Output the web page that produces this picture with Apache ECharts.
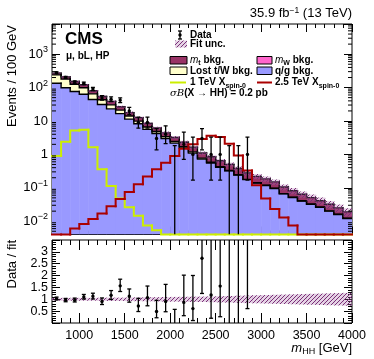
<!DOCTYPE html>
<html>
<head>
<meta charset="utf-8">
<script src="https://cdn.jsdelivr.net/npm/echarts@6/dist/echarts.min.js"></script>
<style>
html, body { margin: 0; padding: 0; background: #fff; }
#chart { width: 374px; height: 359px; }
</style>
</head>
<body>
<div id="chart"></div>
<script>
// 100 GeV bins, lower edges
const binLow = [700, 800, 900, 1000, 1100, 1200, 1300, 1400, 1500, 1600, 1700, 1800, 1900, 2000, 2100, 2200, 2300,
  2400, 2500, 2600, 2700, 2800, 2900, 3000, 3100, 3200, 3300, 3400, 3500, 3600, 3700, 3800, 3900];
const binWidth = 100;

// stacked backgrounds (events / 100 GeV), bottom to top
const qgBkg = [135, 99, 76, 63, 44, 31, 23, 16.6, 11.4, 8.3, 5.6, 4.2, 3.0, 2.18, 1.55, 1.09, 0.72, 0.55, 0.41, 0.32, 0.24,
  0.176, 0.139, 0.117, 0.095, 0.066, 0.051, 0.040, 0.032, 0.026, 0.020, 0.0158, 0.012];
const lostTWBkg = [105, 80, 50, 36, 21, 12, 7.3, 4.6, 2.7, 1.6, 1.0, 0.62, 0.4, 0.26, 0.16, 0.1, 0.055, 0.034, 0.02, 0.01,
  0.007, 0.003, 0.002, 0.002, 0.0015, 0.001, 0.001, 0.0008, 0.0006, 0.0005, 0.0004, 0.0003, 0.0002];
const mWBkg = [1.0, 0.8, 0.6, 0.5, 0.3, 0.2, 0.15, 0.1, 0.07, 0.05, 0.035, 0.025, 0.018, 0.013, 0.01, 0.007, 0.005, 0.004,
  0.003, 0.002, 0.0015, 0.001, 0.0008, 0.0007, 0.0006, 0.0004, 0.0003, 0.00025, 0.0002, 0.00015, 0.00012, 0.0001, 0.00008];
const mtBkg = [29, 30, 25, 21.5, 14.7, 10.8, 8.1, 5.5, 3.6, 2.65, 1.77, 1.35, 0.98, 0.75, 0.58, 0.45, 0.32, 0.26, 0.21, 0.17,
  0.13, 0.10, 0.078, 0.065, 0.053, 0.038, 0.029, 0.023, 0.018, 0.0145, 0.0115, 0.0089, 0.0068];
// relative fit uncertainty
const fitUnc = [0.06, 0.06, 0.06, 0.06, 0.06, 0.065, 0.07, 0.07, 0.075, 0.08, 0.085, 0.09, 0.095, 0.10, 0.105, 0.11, 0.115,
  0.12, 0.13, 0.14, 0.15, 0.16, 0.17, 0.18, 0.19, 0.20, 0.21, 0.22, 0.23, 0.24, 0.25, 0.26, 0.27];

// signals
const sig1TeV = [0.9, 2.4, 5.2, 5.5, 1.65, 0.36, 0.114, 0.048, 0.026, 0.0146, 0.0074, 0.0054,
  0, 0, 0, 0, 0, 0, 0, 0, 0, 0, 0, 0, 0, 0, 0, 0, 0, 0, 0, 0, 0];
const sig2p5TeV = [0, 0, 0.0061, 0.0083, 0.0117, 0.017, 0.028, 0.046, 0.075, 0.128, 0.217, 0.36, 0.565, 0.89, 1.48, 2.0,
  2.9, 3.6, 3.3, 2.1, 0.93, 0.33, 0.12, 0.048, 0.023, 0.013, 0.0074, 0, 0, 0, 0, 0, 0];

// data (first 22 bins), Poisson errors
const dataCounts = [278, 202, 146, 133, 90, 49, 45, 42, 20, 9, 9, 3, 4, 0, 2, 1, 3, 1, 1, 0, 0, 1];
const dataErrLo = [16.2, 14.0, 11.6, 11.0, 9.0, 6.9, 6.7, 6.4, 4.4, 2.9, 2.9, 1.63, 1.91, 0, 1.29, 0.83, 1.63, 0.83, 0.83, 0, 0, 0.83];
const dataErrHi = [17.2, 15.2, 13.1, 12.6, 10.5, 8.0, 7.7, 7.5, 5.5, 4.1, 4.1, 2.92, 3.16, 1.84, 2.64, 2.30, 2.92, 2.30, 2.30, 1.84, 1.84, 2.30];

// tick labels of the log axis, by exponent
const logTickLabels = { '-2': '{b|10}{s|\u22122}', '-1': '{b|10}{s|\u22121}', '0': '{b|1}', '1': '{b|10}', '2': '{b|10}{s|2}', '3': '{b|10}{s|3}' };

const X_MIN = 700, X_MAX = 4000;
const Y_MIN = 0.004, Y_MAX = 8000;
const FONT = '"Liberation Sans", Arial, Helvetica, sans-serif';

const COL_QG = '#9999ff', COL_LOST = '#ffffcc', COL_MW = '#ff66cc', COL_MT = '#993366';
const COL_S1 = '#ccee00', COL_S2 = '#aa0000', COL_HATCH = '#7a2f78';

// cumulative stack levels
const lvl1 = qgBkg.map((v, i) => v);
const lvl2 = lvl1.map((v, i) => v + lostTWBkg[i]);
const lvl3 = lvl2.map((v, i) => v + mWBkg[i]);
const total = lvl3.map((v, i) => v + mtBkg[i]);

// pixel hatch: light purple tint with crisp diagonal lines
function hatchCanvas(color) {
  const n = 4;
  const c = document.createElement('canvas');
  c.width = n; c.height = n;
  const g = c.getContext('2d');
  g.fillStyle = 'rgba(170,110,170,0.30)';
  g.fillRect(0, 0, n, n);
  g.fillStyle = color;
  for (let i = 0; i < n; i++) g.fillRect(i, n - 1 - i, 1, 1);
  return c;
}
const hatch = { image: hatchCanvas(COL_HATCH), repeat: 'repeat' };

function boxItems(lo, hi) {
  return binLow.map((x, i) => [x, x + binWidth, lo[i], hi[i]]);
}
function stepItems(vals) {
  return binLow.map((x, i) => [x, x + binWidth, i === 0 ? vals[0] : vals[i - 1], vals[i]]);
}

function boxRender(fill, yMin) {
  return function (params, api) {
    const a = api.coord([api.value(0), Math.max(api.value(3), yMin)]);
    const b = api.coord([api.value(1), Math.max(api.value(2), yMin)]);
    return {
      type: 'rect',
      shape: { x: a[0], y: a[1], width: b[0] - a[0] + 0.5, height: b[1] - a[1] },
      style: { fill: fill }
    };
  };
}
function stepRender(color, width, yMin) {
  return function (params, api) {
    const x0 = api.value(0), x1 = api.value(1);
    const prev = Math.max(api.value(2), yMin), cur = Math.max(api.value(3), yMin);
    return {
      type: 'polyline',
      shape: { points: [api.coord([x0, prev]), api.coord([x0, cur]), api.coord([x1, cur])] },
      style: { stroke: color, lineWidth: width, fill: null, lineCap: 'square' }
    };
  };
}
function dataRender(yMin) {
  return function (params, api) {
    const x = api.value(0), y = api.value(1), lo = api.value(2), hi = api.value(3);
    const pLo = api.coord([x, Math.max(lo, yMin)]);
    const pHi = api.coord([x, hi]);
    const st = { stroke: '#000', lineWidth: 1.3 };
    const kids = [
      { type: 'line', shape: { x1: pLo[0], y1: pLo[1], x2: pHi[0], y2: pHi[1] }, style: st },
      { type: 'line', shape: { x1: pHi[0] - 2, y1: pHi[1], x2: pHi[0] + 2, y2: pHi[1] }, style: st }
    ];
    if (lo > yMin) kids.push({ type: 'line', shape: { x1: pLo[0] - 2, y1: pLo[1], x2: pLo[0] + 2, y2: pLo[1] }, style: st });
    if (y > yMin) {
      const p = api.coord([x, y]);
      kids.push({ type: 'circle', shape: { cx: p[0], cy: p[1], r: 1.7 }, style: { fill: '#000' } });
    }
    return { type: 'group', children: kids };
  };
}
function logMinorRender(params, api) {
  const cs = params.coordSys;
  const kids = [];
  for (let e = -3; e <= 3; e++) {
    for (let k = 2; k <= 9; k++) {
      const v = k * Math.pow(10, e);
      if (v <= Y_MIN || v >= Y_MAX) continue;
      const y = api.coord([X_MIN, v])[1];
      kids.push({ type: 'line', shape: { x1: cs.x, y1: y, x2: cs.x + 4, y2: y }, style: { stroke: '#000', lineWidth: 1 } });
      kids.push({ type: 'line', shape: { x1: cs.x + cs.width - 4, y1: y, x2: cs.x + cs.width, y2: y }, style: { stroke: '#000', lineWidth: 1 } });
    }
  }
  return { type: 'group', children: kids };
}

const dataTop = dataCounts.map((n, i) => [binLow[i] + binWidth / 2, n, n - dataErrLo[i], n + dataErrHi[i]]);
const dataRatio = dataCounts.map((n, i) => {
  const t = total[i];
  return [binLow[i] + binWidth / 2, n / t, (n - dataErrLo[i]) / t, (n + dataErrHi[i]) / t];
});
const bandTop = binLow.map((x, i) => [x, x + binWidth, total[i] * (1 - fitUnc[i]), total[i] * (1 + fitUnc[i])]);
const bandRatio = binLow.map((x, i) => [x, x + binWidth, 1 - fitUnc[i], 1 + fitUnc[i]]);

function xAx(grid, pos, minor, labels, len) {
  const a = {
    type: 'value', gridIndex: grid, position: pos, min: X_MIN, max: X_MAX,
    axisLine: { show: false }, splitLine: { show: false },
    axisTick: { show: true, inside: true, length: len, lineStyle: { color: '#000', width: 1 } },
    axisLabel: { show: false }
  };
  if (minor) a.interval = 100;
  if (labels) {
    a.axisLabel = {
      show: true, color: '#000', fontSize: 12.5, fontFamily: FONT, margin: 6, showMinLabel: false,
      formatter: v => (v % 500 === 0 ? String(v) : '')
    };
  }
  return a;
}
function logY(pos, labels) {
  return {
    type: 'log', logBase: 10, gridIndex: 0, position: pos, min: Y_MIN, max: Y_MAX,
    axisLine: { show: false }, splitLine: { show: false }, minorTick: { show: false },
    axisTick: { show: true, inside: true, length: 8, lineStyle: { color: '#000', width: 1 } },
    axisLabel: labels ? {
      show: true, margin: 4, fontFamily: FONT, color: '#000',
      formatter: v => {
        const l = Math.log10(v), e = Math.round(l);
        if (Math.abs(l - e) > 1e-6) return '';
        return logTickLabels[String(e)] || '';
      },
      rich: {
        b: { fontSize: 13, fontFamily: FONT, color: '#000', lineHeight: 18 },
        s: { fontSize: 9, fontFamily: FONT, color: '#000', lineHeight: 9, verticalAlign: 'top' }
      }
    } : { show: false }
  };
}
function ratioY(pos, labels) {
  return {
    type: 'value', gridIndex: 1, position: pos, min: 0, max: 3.5, interval: 0.5,
    axisLine: { show: false }, splitLine: { show: false },
    axisTick: { show: true, inside: true, length: 8, lineStyle: { color: '#000', width: 1 } },
    minorTick: { show: true, splitNumber: 5, length: 4, lineStyle: { color: '#000', width: 1 } },
    axisLabel: labels ? {
      show: true, margin: 4, color: '#000', fontSize: 12.5, fontFamily: FONT,
      formatter: v => (v === 0 || v === 3.5 ? '' : String(v))
    } : { show: false }
  };
}

const legendFont = { fontSize: 10, fontWeight: 'bold', fontFamily: FONT, fill: '#000' };
const richLeg = {
  n: { fontSize: 10, fontWeight: 'bold', fontFamily: FONT, color: '#000', lineHeight: 14 },
  i: { fontSize: 10, fontStyle: 'italic', fontFamily: FONT, color: '#000', lineHeight: 14 },
  sub: { fontSize: 7, fontWeight: 'bold', fontFamily: FONT, color: '#000', lineHeight: 8, verticalAlign: 'bottom' },
  si: { fontSize: 10, fontStyle: 'italic', fontFamily: '"DejaVu Serif", "Liberation Serif", serif', color: '#000', lineHeight: 14 }
};
function legText(x, y, text) {
  return { type: 'text', x: x, y: y, style: Object.assign({ text: text, rich: richLeg, textVerticalAlign: 'middle' }, legendFont) };
}
function legBox(x, y, w, fill) {
  return { type: 'rect', shape: { x: x, y: y, width: w, height: 7.5 }, style: { fill: fill, stroke: '#000', lineWidth: 1 } };
}

const chart = echarts.init(document.getElementById('chart'), null, { renderer: 'canvas' });
chart.setOption({
  animation: false,
  backgroundColor: '#fff',
  textStyle: { fontFamily: FONT },
  grid: [
    { left: 52, top: 24, width: 300, height: 210.5, show: true, borderColor: '#000', borderWidth: 1, backgroundColor: 'transparent' },
    { left: 52, top: 240, width: 300, height: 83, show: true, borderColor: '#000', borderWidth: 1, backgroundColor: 'transparent' }
  ],
  xAxis: [
    xAx(0, 'bottom', false, false, 8),
    xAx(0, 'bottom', true, false, 4),
    xAx(0, 'top', false, false, 8),
    xAx(0, 'top', true, false, 4),
    xAx(1, 'bottom', false, true, 10),
    xAx(1, 'bottom', true, false, 5),
    xAx(1, 'top', false, false, 10),
    xAx(1, 'top', true, false, 5)
  ],
  yAxis: [logY('left', true), logY('right', false), ratioY('left', true), ratioY('right', false)],
  series: [
    // stack fills
    { type: 'custom', name: 'q/g bkg.', xAxisIndex: 0, yAxisIndex: 0, clip: true, renderItem: boxRender(COL_QG, Y_MIN),
      data: boxItems(binLow.map(() => Y_MIN), lvl1), encode: { x: [0, 1], y: [2, 3] }, z: 1 },
    { type: 'custom', name: 'Lost t/W bkg.', xAxisIndex: 0, yAxisIndex: 0, clip: true, renderItem: boxRender(COL_LOST, Y_MIN),
      data: boxItems(lvl1, lvl2), encode: { x: [0, 1], y: [2, 3] }, z: 1 },
    { type: 'custom', name: 'mW bkg.', xAxisIndex: 0, yAxisIndex: 0, clip: true, renderItem: boxRender(COL_MW, Y_MIN),
      data: boxItems(lvl2, lvl3), encode: { x: [0, 1], y: [2, 3] }, z: 1 },
    { type: 'custom', name: 'mt bkg.', xAxisIndex: 0, yAxisIndex: 0, clip: true, renderItem: boxRender(COL_MT, Y_MIN),
      data: boxItems(lvl3, total), encode: { x: [0, 1], y: [2, 3] }, z: 1 },
    // stack outlines
    { type: 'custom', xAxisIndex: 0, yAxisIndex: 0, clip: true, renderItem: stepRender('#000', 1.4, Y_MIN),
      data: stepItems(lvl1), encode: { x: [0, 1], y: [2, 3] }, z: 2 },
    { type: 'custom', xAxisIndex: 0, yAxisIndex: 0, clip: true, renderItem: stepRender('#000', 1.4, Y_MIN),
      data: stepItems(lvl2), encode: { x: [0, 1], y: [2, 3] }, z: 2 },
    { type: 'custom', xAxisIndex: 0, yAxisIndex: 0, clip: true, renderItem: stepRender('#000', 1.4, Y_MIN),
      data: stepItems(total), encode: { x: [0, 1], y: [2, 3] }, z: 2 },
    // fit uncertainty
    { type: 'custom', name: 'Fit unc.', xAxisIndex: 0, yAxisIndex: 0, clip: true, renderItem: boxRender(hatch, Y_MIN),
      data: bandTop, encode: { x: [0, 1], y: [2, 3] }, z: 3 },
    // signals
    { type: 'custom', name: '1 TeV', xAxisIndex: 0, yAxisIndex: 0, clip: false, renderItem: stepRender(COL_S1, 2, Y_MIN),
      data: stepItems(sig1TeV), encode: { x: [0, 1], y: [2, 3] }, z: 4 },
    { type: 'custom', name: '2.5 TeV', xAxisIndex: 0, yAxisIndex: 0, clip: false, renderItem: stepRender(COL_S2, 2, Y_MIN),
      data: stepItems(sig2p5TeV), encode: { x: [0, 1], y: [2, 3] }, z: 5 },
    // data
    { type: 'custom', name: 'Data', xAxisIndex: 0, yAxisIndex: 0, clip: true, renderItem: dataRender(Y_MIN),
      data: dataTop, encode: { x: 0, y: [1, 2, 3] }, z: 6 },
    // log minor ticks
    { type: 'custom', xAxisIndex: 0, yAxisIndex: 0, clip: false, renderItem: logMinorRender,
      data: [[1000, 1]], encode: { x: 0, y: 1 }, z: 7, silent: true },
    // ratio panel
    { type: 'custom', xAxisIndex: 4, yAxisIndex: 2, clip: true, renderItem: boxRender(hatch, 0),
      data: bandRatio, encode: { x: [0, 1], y: [2, 3] }, z: 3 },
    { type: 'custom', xAxisIndex: 4, yAxisIndex: 2, clip: true, renderItem: dataRender(0),
      data: dataRatio, encode: { x: 0, y: [1, 2, 3] }, z: 6 }
  ],
  graphic: [
    { type: 'text', x: 352, y: 13, style: { text: '35.9 fb{s|\u22121} (13 TeV)', textAlign: 'right', textVerticalAlign: 'middle',
      fontSize: 13, fontFamily: FONT, fill: '#000',
      rich: { s: { fontSize: 8.5, fontFamily: FONT, color: '#000', lineHeight: 8, verticalAlign: 'top' } } } },
    { type: 'text', x: 65, y: 39, style: { text: 'CMS', fontSize: 17, fontWeight: 'bold', fontFamily: FONT, fill: '#000', textVerticalAlign: 'middle' } },
    { type: 'text', x: 66, y: 56, style: { text: '\u03bc, bL, HP', fontSize: 10, fontWeight: 'bold', fontFamily: FONT, fill: '#000', textVerticalAlign: 'middle' } },
    { type: 'text', x: 12.5, y: 25, rotation: Math.PI / 2,
      style: { text: 'Events / 100 GeV', textAlign: 'right', textVerticalAlign: 'middle', fontSize: 13, fontFamily: FONT, fill: '#000' } },
    { type: 'text', x: 12.5, y: 240, rotation: Math.PI / 2,
      style: { text: 'Data / fit', textAlign: 'right', textVerticalAlign: 'middle', fontSize: 13, fontFamily: FONT, fill: '#000' } },
    { type: 'text', x: 352, y: 348, style: { text: '{i|m}{sub|HH} [GeV]', textAlign: 'right', textVerticalAlign: 'middle',
      fontSize: 13, fontFamily: FONT, fill: '#000',
      rich: {
        i: { fontSize: 13, fontStyle: 'italic', fontFamily: FONT, color: '#000', lineHeight: 16 },
        sub: { fontSize: 9, fontFamily: FONT, color: '#000', lineHeight: 9, verticalAlign: 'bottom' }
      } } },
    // legend
    { type: 'line', shape: { x1: 180, y1: 31, x2: 180, y2: 39 }, style: { stroke: '#000', lineWidth: 1.3 } },
    { type: 'line', shape: { x1: 178, y1: 31, x2: 182, y2: 31 }, style: { stroke: '#000', lineWidth: 1.3 } },
    { type: 'line', shape: { x1: 178, y1: 39, x2: 182, y2: 39 }, style: { stroke: '#000', lineWidth: 1.3 } },
    { type: 'circle', shape: { cx: 180, cy: 35, r: 1.7 }, style: { fill: '#000' } },
    legText(190, 35, '{n|Data}'),
    { type: 'rect', shape: { x: 175, y: 40.5, width: 12, height: 7 }, style: { fill: hatch } },
    legText(190, 44, '{n|Fit unc.}'),
    legBox(170, 56.5, 17, COL_MT),
    legText(190, 60, '{i|m}{sub|t}{n| bkg.}'),
    legBox(170, 67, 17, COL_LOST),
    legText(190, 71, '{n|Lost t/W bkg.}'),
    { type: 'line', shape: { x1: 170, y1: 82.5, x2: 186, y2: 82.5 }, style: { stroke: COL_S1, lineWidth: 2 } },
    legText(190, 82.5, '{n|1 TeV X}{sub|spin-0}'),
    legText(170, 93.5, '{si|\u03c3B}{n|(X \u2192 HH) = 0.2 pb}'),
    legBox(257, 56.5, 15, COL_MW),
    legText(275, 60, '{i|m}{sub|W}{n| bkg.}'),
    legBox(257, 67, 15, COL_QG),
    legText(275, 71, '{n|q/g bkg.}'),
    { type: 'line', shape: { x1: 257, y1: 82.5, x2: 272, y2: 82.5 }, style: { stroke: COL_S2, lineWidth: 2 } },
    legText(275, 82.5, '{n|2.5 TeV X}{sub|spin-0}')
  ]
});
</script>
</body>
</html>
